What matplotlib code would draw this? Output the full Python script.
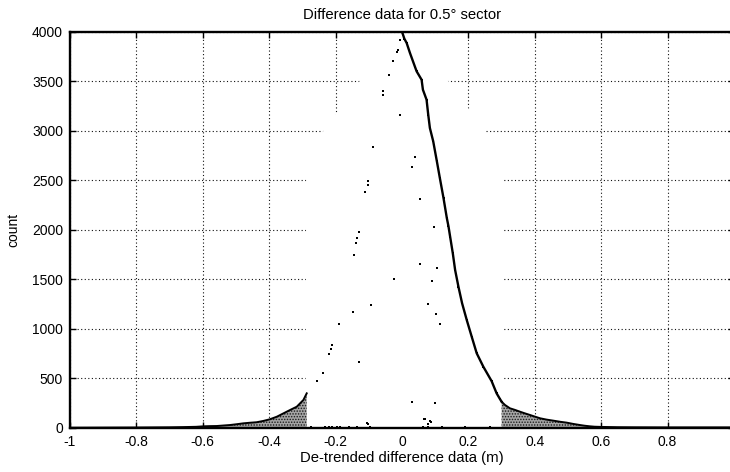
import matplotlib
matplotlib.use("Agg")
import matplotlib.pyplot as plt

plt.rcParams['font.family'] = ['Liberation Sans', 'DejaVu Sans']
plt.rcParams['axes.unicode_minus'] = False
plt.rcParams['hatch.linewidth'] = 0.7

# ---- data ----
title = "Difference data for 0.5° sector"
xlabel = "De-trended difference data (m)"
ylabel = "count"
xticks = [-1, -0.8, -0.6, -0.4, -0.2, 0, 0.2, 0.4, 0.6, 0.8]
xtick_labels = ["-1", "-0.8", "-0.6", "-0.4", "-0.2", "0", "0.2", "0.4", "0.6", "0.8"]
yticks = [0, 500, 1000, 1500, 2000, 2500, 3000, 3500, 4000]

# shaded left tail (x < -0.28)
left_tail_x = [-1.0, -0.9, -0.8, -0.7, -0.66, -0.62, -0.598, -0.578, -0.558, -0.538,
               -0.518, -0.498, -0.478, -0.458, -0.438, -0.418, -0.398, -0.377,
               -0.357, -0.337, -0.317, -0.297, -0.287]
left_tail_counts = [0, 1, 2, 4, 6, 9, 14, 16, 17, 22, 27, 35, 44, 50, 55, 68, 85, 111,
                    145, 179, 212, 280, 347]

# shaded right tail (x > 0.30)
right_tail_x = [0.300, 0.310, 0.325, 0.340, 0.355, 0.370, 0.386, 0.400, 0.416,
                0.435, 0.456, 0.476, 0.496, 0.516, 0.536, 0.550, 0.566, 0.580, 0.600,
                0.650, 0.700, 0.800, 0.900, 1.000]
right_tail_counts = [263, 230, 196, 180, 162, 145, 128, 112, 95, 82, 71, 60, 51, 38,
                     27, 20, 14, 10, 8, 5, 4, 3, 3, 3]

# dense right flank of the peak (0 .. 0.30)
core_x = [0.000, 0.007, 0.014, 0.024, 0.039, 0.044, 0.059, 0.063, 0.074, 0.079, 0.084,
          0.094, 0.105, 0.114, 0.125, 0.135, 0.140, 0.145, 0.153, 0.160, 0.170, 0.181,
          0.195, 0.210, 0.225, 0.245, 0.270, 0.285, 0.295, 0.300]
core_counts = [4000, 3930, 3886, 3785, 3646, 3600, 3515, 3414, 3313, 3162, 3027, 2893,
               2691, 2522, 2320, 2118, 2034, 1929, 1762, 1593, 1424, 1257, 1088, 919,
               752, 616, 470, 347, 290, 263]

# isolated bin tops (left flank and stray bins)
scatter_x = [-0.006, -0.011, -0.016, -0.026, -0.038, -0.056, -0.056, -0.006, -0.088,
             -0.101, -0.102, -0.110, -0.130, -0.135, -0.139, -0.144, -0.093, -0.149,
             -0.191, -0.211, -0.215, -0.221, -0.129, -0.239, -0.257, -0.023, 0.055,
             0.105, 0.090, 0.095, 0.077, 0.102, 0.114, 0.039, 0.029, 0.054, 0.030,
             0.099, 0.088, 0.077, 0.066, 0.069, 0.084, -0.104, -0.101,
             -0.274, -0.232, -0.219, -0.212, -0.197, -0.187, -0.159, -0.135, -0.096,
             0.064, 0.079, 0.120, 0.190, 0.265]
scatter_counts = [3916, 3818, 3790, 3701, 3560, 3398, 3364, 3159, 2835,
                  2489, 2455, 2381, 1980, 1913, 1863, 1748, 1242, 1172,
                  1047, 832, 800, 741, 661, 549, 472, 1505, 1650,
                  1610, 1482, 2024, 1249, 1145, 1044, 2737, 2636, 2307, 260,
                  253, 61, 37, 91, 91, 68, 44, 34,
                  5, 5, 5, 5, 5, 5, 5, 5, 5,
                  5, 5, 5, 5, 5]

# white (unhatched) central bar area that hides the grid
mask_x = [-0.292, -0.290, -0.250, -0.200, -0.130, -0.060, 0.000, 0.070, 0.139, 0.210,
          0.260, 0.300, 0.302]
mask_top = [0, 2750, 2950, 3175, 3500, 3800, 4000, 3800, 3500, 3175, 2950, 2750, 0]

# ---- figure ----
fig = plt.figure(figsize=(7.30, 4.72), dpi=100)
ax = fig.add_axes([70 / 730, 44.3 / 472, 664 / 730, 396 / 472])

ax.set_xlim(-1, 1)
ax.set_ylim(0, 4000)

ax.set_axisbelow(True)
ax.grid(True, color='#111111', linestyle=(0, (1, 2.2)), linewidth=0.8)

ax.fill_between(mask_x, mask_top, color='white', linewidth=0, zorder=1)

for tx, tc in ((left_tail_x, left_tail_counts), (right_tail_x, right_tail_counts)):
    ax.fill_between(tx, tc, facecolor='#a4a4a4', edgecolor='#1a1a1a', hatch='......',
                    linewidth=0, zorder=2)
    ax.plot(tx, tc, color='black', linewidth=1.4, zorder=3)

ax.plot(core_x, core_counts, color='black', linewidth=1.7, zorder=3,
        marker='s', markersize=2.0, markeredgewidth=0)
ax.plot(scatter_x, scatter_counts, linestyle='none', color='black', marker='s',
        markersize=2.0, markeredgewidth=0, zorder=3)

ax.set_xticks(xticks)
ax.set_xticklabels(xtick_labels)
ax.set_yticks(yticks)
ax.tick_params(axis='both', direction='in', length=4, width=1, labelsize=10,
               top=True, right=True, pad=5)
for side in ('left', 'bottom', 'top', 'right'):
    ax.spines[side].set_linewidth(1.7)

ax.set_title(title, fontsize=10.7, pad=9)
ax.set_xlabel(xlabel, fontsize=10.7, labelpad=2)
ax.set_ylabel(ylabel, fontsize=10, labelpad=8)

fig.savefig("out.png", dpi=100)
